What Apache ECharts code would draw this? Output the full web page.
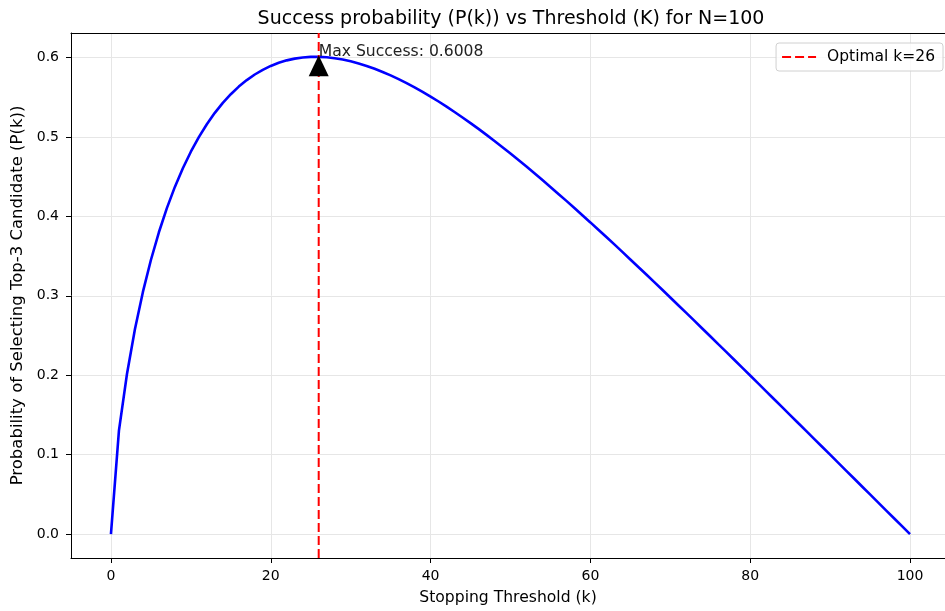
<!DOCTYPE html>
<html>
<head>
<meta charset="utf-8">
<script src="https://cdn.jsdelivr.net/npm/echarts@6/dist/echarts.min.js"></script>
<style>
    html, body { margin: 0; padding: 0; background: #fff; }
    #chart { width: 945px; height: 611px; }
</style>
</head>
<body>
<div id="chart"></div>
<script type="text/javascript">
    // success probability P(k) for k = 0..100
    var successProb = [
        0, 0.1303, 0.2012, 0.2578, 0.3049, 0.3451, 0.3800, 0.4104, 0.4371, 0.4606,
        0.4814, 0.4998, 0.5160, 0.5303, 0.5429, 0.5538, 0.5634, 0.5716, 0.5786, 0.5845,
        0.5894, 0.5933, 0.5964, 0.5986, 0.6000, 0.6008, 0.6008, 0.6003, 0.5991, 0.5974,
        0.5952, 0.5925, 0.5894, 0.5858, 0.5818, 0.5775, 0.5728, 0.5677, 0.5624, 0.5567,
        0.5508, 0.5446, 0.5381, 0.5314, 0.5245, 0.5174, 0.5101, 0.5026, 0.4949, 0.4871,
        0.4791, 0.4709, 0.4627, 0.4543, 0.4457, 0.4371, 0.4283, 0.4195, 0.4106, 0.4015,
        0.3924, 0.3832, 0.3740, 0.3647, 0.3553, 0.3458, 0.3363, 0.3268, 0.3172, 0.3076,
        0.2979, 0.2882, 0.2785, 0.2687, 0.2589, 0.2491, 0.2392, 0.2294, 0.2195, 0.2096,
        0.1997, 0.1897, 0.1798, 0.1698, 0.1599, 0.1499, 0.1399, 0.1300, 0.1200, 0.1100,
        0.1000, 0.0900, 0.0800, 0.0700, 0.0600, 0.0500, 0.0400, 0.0300, 0.0200, 0.0100,
        0
    ];
    var optimalK = 26;
    var maxSuccess = 0.6008;
    var xTicks = [0, 20, 40, 60, 80, 100];
    var yTicks = [0, 0.1, 0.2, 0.3, 0.4, 0.5, 0.6];
    // the source picture is cut a little before its right spine
    var xRange = [-5, 104.38];
    var yRange = [-0.03004, 0.63084];

    var curveData = [];
    for (var i = 0; i < successProb.length; i++) {
        curveData.push([i, successProb[i]]);
    }
    var optimalLine = [[optimalK, yRange[0]], [optimalK, yRange[1]]];

    var font = 'DejaVu Sans';
    var chart = echarts.init(document.getElementById('chart'));
    chart.setOption({
        animation: false,
        textStyle: { fontFamily: font },
        title: {
            text: 'Success probability (P(k)) vs Threshold (K) for N=100',
            left: 506,
            textAlign: 'center',
            top: 5,
            textStyle: { fontSize: 19, fontWeight: 'normal', color: '#000', fontFamily: font }
        },
        legend: {
            data: ['Optimal k=26'],
            right: 2,
            top: 43,
            itemWidth: 34,
            itemHeight: 12,
            padding: [6, 8, 6, 5],
            borderColor: '#d0d0d0',
            borderWidth: 1,
            borderRadius: 3,
            backgroundColor: 'rgba(255,255,255,0.8)',
            itemStyle: { opacity: 0 },
            textStyle: { fontSize: 15.5, color: '#000', fontFamily: font, padding: [0, 0, 0, 6] }
        },
        grid: {
            left: 71,
            right: 0,
            top: 33,
            bottom: 53
        },
        xAxis: [
            {
                type: 'value',
                min: xRange[0],
                max: xRange[1],
                name: 'Stopping Threshold (k)',
                nameLocation: 'middle',
                nameGap: 32,
                nameTextStyle: { fontSize: 15.6, color: '#000' },
                axisLine: { show: true, onZero: false, lineStyle: { color: '#000', width: 1 } },
                axisTick: { show: true, length: 5, lineStyle: { color: '#000' }, customValues: xTicks },
                axisLabel: { customValues: xTicks, fontSize: 14, color: '#000', margin: 11 },
                splitLine: { show: true, lineStyle: { color: '#e6e6e6', width: 1 } }
            },
            {
                // top spine only
                type: 'value',
                position: 'top',
                min: xRange[0],
                max: xRange[1],
                axisLine: { show: true, onZero: false, lineStyle: { color: '#000', width: 1 } },
                axisTick: { show: false },
                axisLabel: { show: false },
                splitLine: { show: false }
            }
        ],
        yAxis: {
            type: 'value',
            min: yRange[0],
            max: yRange[1],
            name: 'Probability of Selecting Top-3 Candidate (P(k))',
            nameLocation: 'middle',
            nameGap: 45,
            nameTextStyle: { fontSize: 16.5, color: '#000' },
            axisLine: { show: true, onZero: false, lineStyle: { color: '#000', width: 1 } },
            axisTick: { show: true, length: 5, lineStyle: { color: '#000' }, customValues: yTicks },
            axisLabel: {
                customValues: yTicks, fontSize: 14, color: '#000', margin: 12,
                formatter: function (v) { return v.toFixed(1); }
            },
            splitLine: { show: true, lineStyle: { color: '#e6e6e6', width: 1 } }
        },
        series: [
            {
                name: 'P(k)',
                type: 'line',
                data: curveData,
                showSymbol: false,
                symbol: 'none',
                lineStyle: { color: '#0000ff', width: 2.6 },
                z: 3,
                markPoint: {
                    silent: true,
                    data: [
                        {
                            coord: [optimalK, maxSuccess],
                            symbol: 'triangle',
                            symbolSize: [20, 21],
                            symbolOffset: [0, 9],
                            itemStyle: { color: '#000' },
                            label: { show: false }
                        },
                        {
                            coord: [optimalK, maxSuccess],
                            symbol: 'circle',
                            symbolSize: 0,
                            label: {
                                show: true,
                                position: [0, -5],
                                align: 'left',
                                verticalAlign: 'middle',
                                formatter: 'Max Success: ' + maxSuccess.toFixed(4),
                                fontSize: 15.6,
                                color: '#222',
                                fontFamily: font
                            }
                        }
                    ]
                }
            },
            {
                name: 'Optimal k=26',
                type: 'line',
                data: optimalLine,
                showSymbol: false,
                symbol: 'none',
                lineStyle: { color: '#ff0000', width: 2, type: [9, 4] },
                itemStyle: { color: '#ff0000' },
                z: 4
            }
        ]
    });
</script>
</body>
</html>
